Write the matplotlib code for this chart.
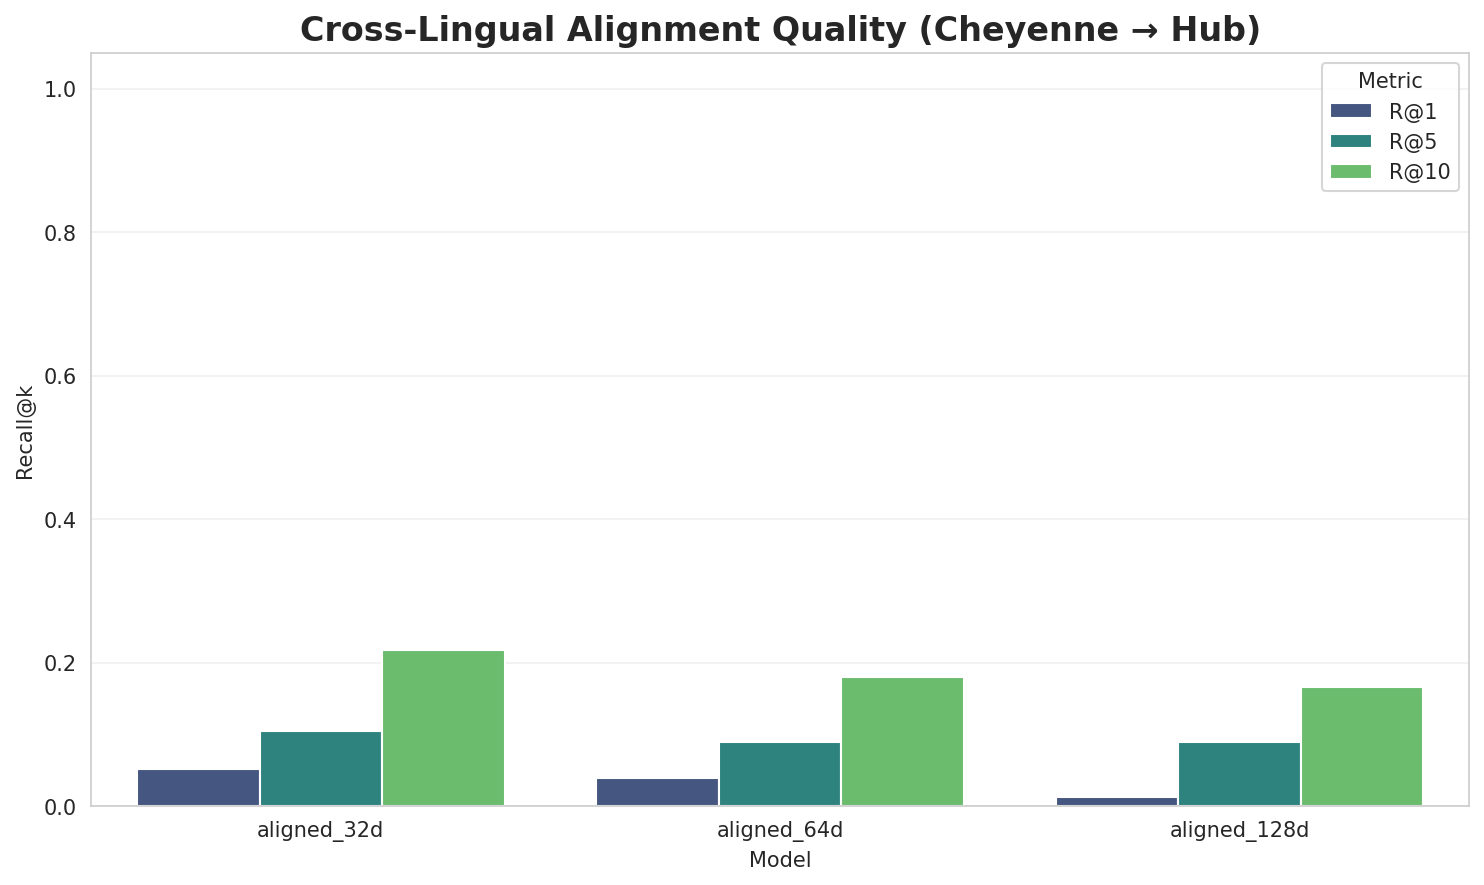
import matplotlib
matplotlib.use("Agg")
import matplotlib.pyplot as plt
import seaborn as sns
import pandas as pd

models = ['aligned_32d', 'aligned_64d', 'aligned_128d']
metrics = ['R@1', 'R@5', 'R@10']
r1 = [0.052, 0.039, 0.013]
r5 = [0.104, 0.090, 0.090]
r10 = [0.218, 0.180, 0.166]

rows = []
for i, m in enumerate(models):
    for k, vals in zip(metrics, [r1, r5, r10]):
        rows.append({'Model': m, 'Metric': k, 'Recall@k': vals[i]})
df = pd.DataFrame(rows)

sns.set_style("whitegrid")
fig, ax = plt.subplots(figsize=(10, 6))
sns.barplot(data=df, x='Model', y='Recall@k', hue='Metric', palette='viridis', ax=ax)
ax.set_ylim(0, 1.05)
ax.grid(axis='y', alpha=0.3)
ax.set_title('Cross-Lingual Alignment Quality (Cheyenne → Hub)', fontsize=16, fontweight='bold')
ax.legend(title='Metric', loc='upper right')
plt.tight_layout()
plt.savefig('out.png', dpi=150, bbox_inches='tight')
